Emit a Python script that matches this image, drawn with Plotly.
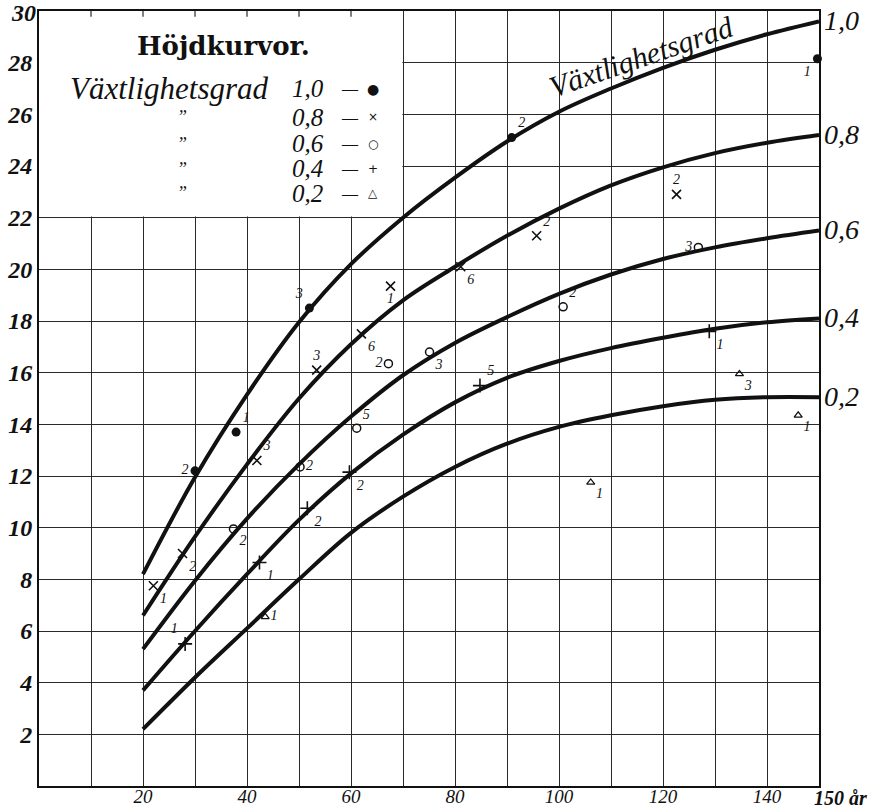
import plotly.graph_objects as go

# ---------------- data ----------------
ages = [20, 30, 40, 50, 60, 70, 80, 90, 100, 110, 120, 130, 140, 150]
h_10 = [8.2, 11.95, 15.15, 17.95, 20.2, 22.0, 23.55, 24.95, 26.1, 27.0, 27.8, 28.5, 29.1, 29.6]
h_08 = [6.6, 9.65, 12.45, 15.0, 17.1, 18.8, 20.1, 21.3, 22.35, 23.25, 23.95, 24.5, 24.9, 25.2]
h_06 = [5.3, 7.95, 10.35, 12.45, 14.3, 15.9, 17.15, 18.15, 19.05, 19.8, 20.4, 20.85, 21.2, 21.5]
h_04 = [3.7, 6.0, 8.2, 10.3, 12.1, 13.6, 14.85, 15.8, 16.45, 16.95, 17.35, 17.7, 17.95, 18.1]
h_02 = [2.2, 4.2, 6.1, 8.0, 9.8, 11.2, 12.35, 13.25, 13.9, 14.35, 14.7, 14.95, 15.05, 15.05]
curve_names = ["1,0", "0,8", "0,6", "0,4", "0,2"]

# observed stands: age, height, number of sample plots
p10_x = [30, 37.9, 52, 90.9, 149.7]
p10_y = [12.2, 13.7, 18.5, 25.1, 28.15]
p10_n = ["2", "1", "3", "2", "1"]

p08_x = [22, 27.6, 41.9, 53.4, 62, 67.6, 81.1, 95.7, 122.6]
p08_y = [7.75, 9.0, 12.6, 16.1, 17.5, 19.35, 20.1, 21.3, 22.9]
p08_n = ["1", "2", "3", "3", "6", "1", "6", "2", "2"]

p06_x = [37.4, 50.2, 61.1, 67.2, 75.1, 100.8, 126.8]
p06_y = [9.95, 12.35, 13.85, 16.35, 16.8, 18.55, 20.85]
p06_n = ["2", "2", "5", "2", "3", "2", "3"]

p04_x = [28.1, 42.4, 51.6, 59.7, 84.8, 128.9]
p04_y = [5.5, 8.65, 10.75, 12.15, 15.5, 17.6]
p04_n = ["1", "1", "2", "2", "5", "1"]

p02_x = [43.5, 106.1, 134.7, 146.0]
p02_y = [6.55, 11.75, 15.95, 14.35]
p02_n = ["1", "1", "3", "1"]

x_ticks = [20, 40, 60, 80, 100, 120, 140]
y_ticks = [2, 4, 6, 8, 10, 12, 14, 16, 18, 20, 22, 24, 26, 28, 30]

legend_rows = ["1,0", "0,8", "0,6", "0,4", "0,2"]
legend_syms = ["●", "×", "○", "+", "△"]

# ---------------- styles ----------------
pos10 = ["middle left", "top right", "top left", "top right", "bottom left"]
pos08 = ["bottom right", "bottom right", "top right", "top center", "bottom right",
         "bottom center", "bottom right", "top right", "top center"]
pos06 = ["bottom right", "middle right", "top right", "middle left", "bottom right",
         "top right", "middle left"]
pos04 = ["top left", "bottom right", "bottom right", "bottom right", "top right", "bottom right"]
pos02 = ["middle right", "bottom right", "bottom right", "bottom right"]

SERIF = "Liberation Serif"
INK = "#111"
GRID = "#2a2a2a"
YFONT = dict(family=SERIF, size=24, color=INK, style="italic", weight="bold")

fig = go.Figure()

for hv in [h_10, h_08, h_06, h_04, h_02]:
    fig.add_trace(go.Scatter(x=ages, y=hv, mode="lines",
                             line=dict(color=INK, width=4, shape="spline", smoothing=1.0),
                             hoverinfo="skip", showlegend=False))

pt_font = dict(family=SERIF, size=14, color=INK, style="italic")
series = [
    (p10_x, p10_y, p10_n, pos10, dict(symbol="circle", size=9, color=INK)),
    (p08_x, p08_y, p08_n, pos08, dict(symbol="x-thin-open", size=9, color=INK, line=dict(width=1.6, color=INK))),
    (p06_x, p06_y, p06_n, pos06, dict(symbol="circle-open", size=8, color=INK, line=dict(width=1.5, color=INK))),
    (p04_x, p04_y, p04_n, pos04, dict(symbol="cross-thin-open", size=10, color=INK, line=dict(width=1.6, color=INK))),
    (p02_x, p02_y, p02_n, pos02, dict(symbol="triangle-up-open", size=7, color=INK, line=dict(width=1.3, color=INK))),
]
for sx, sy, sn, sp, mk in series:
    fig.add_trace(go.Scatter(x=sx, y=sy, mode="markers+text", text=sn, textposition=sp,
                             textfont=pt_font, marker=mk, cliponaxis=False,
                             hoverinfo="skip", showlegend=False))

ann = []
# curve end labels
for name, hv in zip(curve_names, [h_10, h_08, h_06, h_04, h_02]):
    ann.append(dict(x=ages[-1], y=hv[-1], text=name, showarrow=False, xanchor="left",
                    yanchor="middle", xshift=3, yshift=1,
                    font=dict(family=SERIF, size=28, color=INK, style="italic")))
# label along top curve
ann.append(dict(x=115.8, y=28.25, text="Växtlighetsgrad", showarrow=False, textangle=-19,
                font=dict(family=SERIF, size=30, color=INK, style="italic")))
# legend box contents
ann.append(dict(x=35.4, y=28.65, text="Höjdkurvor.", showarrow=False,
                font=dict(family="DejaVu Serif", size=26, color=INK, weight="bold")))
row_y = [27.0, 25.88, 24.87, 23.9, 22.94]
ann.append(dict(x=5.6, y=row_y[0], text="Växtlighetsgrad", showarrow=False, xanchor="left",
                font=dict(family=SERIF, size=31, color=INK, style="italic")))
for i, (lab, sym) in enumerate(zip(legend_rows, legend_syms)):
    ann.append(dict(x=48.3, y=row_y[i], text=lab, showarrow=False, xanchor="left",
                    font=dict(family=SERIF, size=25, color=INK, style="italic")))
    ann.append(dict(x=59.8, y=row_y[i], text="—", showarrow=False,
                    font=dict(family=SERIF, size=16, color=INK)))
    ann.append(dict(x=64.2, y=row_y[i], text=sym, showarrow=False,
                    font=dict(family="DejaVu Sans", size=12 if sym != "●" else 14, color=INK)))
    if i > 0:
        ann.append(dict(x=27.5, y=row_y[i], text="\u201d", showarrow=False,
                        font=dict(family=SERIF, size=18, color=INK, style="italic")))
# last x label
ann.append(dict(x=150, y=0, xref="x", yref="paper", text="150 år", showarrow=False,
                xanchor="left", yanchor="top", xshift=-7, yshift=1,
                font=dict(family=SERIF, size=20, color=INK, style="italic", weight="bold")))
# top y label, nudged down so it stays inside the page
ann.append(dict(x=0, xref="paper", y=y_ticks[-1], yref="y", text=str(y_ticks[-1]),
                showarrow=False, xanchor="right", yanchor="top", xshift=-1, yshift=13,
                font=YFONT))

shapes = [
    dict(type="rect", xref="x", yref="y", x0=0, x1=69.88, y0=22.05, y1=30,
         fillcolor="white", line=dict(width=0), layer="between"),
]
for t in [10, 20, 30, 40, 50, 60]:
    shapes.append(dict(type="line", xref="x", yref="y", x0=t, x1=t, y0=30, y1=29.78,
                       line=dict(color=GRID, width=1.2), layer="above"))

fig.update_layout(
    width=887, height=809,
    margin=dict(l=39, r=68, t=11, b=23, autoexpand=False),
    paper_bgcolor="white", plot_bgcolor="white",
    annotations=ann, shapes=shapes,
    xaxis=dict(range=[0, 150], tickmode="array", tickvals=x_ticks,
               ticktext=[str(v) for v in x_ticks], automargin=False,
               showgrid=True, gridcolor=GRID, gridwidth=1.2,
               minor=dict(tickmode="linear", tick0=0, dtick=10, showgrid=True,
                          gridcolor=GRID, gridwidth=1.2),
               zeroline=False, showline=True, linecolor=INK, linewidth=1.8, mirror=True,
               ticks="", ticklabelstandoff=-8, ticklabeloverflow="allow",
               tickfont=dict(family=SERIF, size=19, color=INK, style="italic")),
    yaxis=dict(range=[0, 30], tickmode="array", tickvals=y_ticks,
               ticktext=[str(v) for v in y_ticks[:-1]] + [""], automargin=False,
               showgrid=True, gridcolor=GRID, gridwidth=1.2,
               zeroline=False, showline=True, linecolor=INK, linewidth=1.8, mirror=True,
               ticks="", ticklabelstandoff=0, ticklabeloverflow="allow",
               tickfont=YFONT),
)

fig.write_html("out.html", config={"displayModeBar": False},
               post_script="document.body.style.margin='0';document.body.style.overflow='hidden';")
